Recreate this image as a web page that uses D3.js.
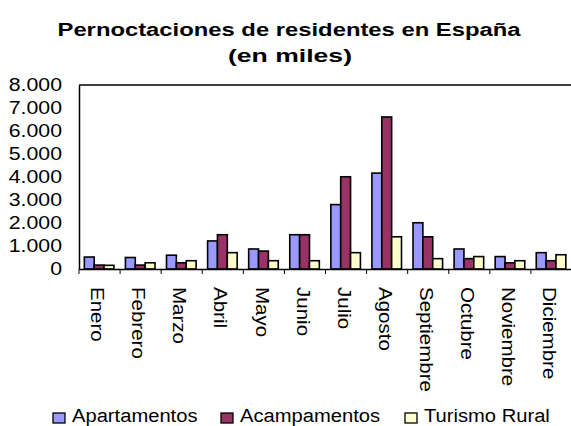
<!DOCTYPE html>
<html>
<head>
<meta charset="utf-8">
<script src="https://cdn.jsdelivr.net/npm/d3@7"></script>
<style>
  body { margin: 0; background: #fff; }
  svg { display: block; font-family: "Liberation Sans", Arial, sans-serif; }
</style>
</head>
<body>
<svg width="571" height="426"></svg>
<script>
const meses = ["Enero", "Febrero", "Marzo", "Abril", "Mayo", "Junio", "Julio",
    "Agosto", "Septiembre", "Octubre", "Noviembre", "Diciembre"];
const series = ["Apartamentos", "Acampamentos", "Turismo Rural"];
const apartamentos = [520, 500, 600, 1220, 870, 1490, 2800, 4170, 2010, 870, 540, 710];
const acampamentos = [170, 170, 270, 1490, 780, 1490, 4010, 6610, 1400, 450, 270, 360];
const turismoRural = [160, 270, 360, 710, 360, 360, 710, 1400, 450, 540, 360, 620];
const yTicks = [0, 1000, 2000, 3000, 4000, 5000, 6000, 7000, 8000];
const colores = ["#9999ff", "#993366", "#ffffcc"];

// el texto del original sale algo ensanchado
function estirar(sel, k) {
    sel.each(function () {
        const w = this.getComputedTextLength();
        d3.select(this).attr("textLength", w * k).attr("lengthAdjust", "spacingAndGlyphs");
    });
}

document.addEventListener('DOMContentLoaded', function () {
    const svg = d3.select("svg");
    const margin = { top: 85, right: -1, bottom: 157, left: 79 };
    const width = +svg.attr("width") - margin.left - margin.right;
    const height = +svg.attr("height") - margin.top - margin.bottom;
    const g = svg.append("g").attr("transform", `translate(${margin.left},${margin.top})`);

    const valores = [apartamentos, acampamentos, turismoRural];
    const data = meses.map((m, i) => ({ mes: m, vals: valores.map(v => v[i]) }));

    const x = d3.scaleBand().domain(meses).range([0, width]).padding(0);
    const x1 = d3.scaleBand().domain(series).range([0, x.bandwidth() * 0.72]);
    const y = d3.scaleLinear().domain([0, 8000]).range([height, 0]);

    // titulo
    svg.append("text").attr("x", 289).attr("y", 36).attr("text-anchor", "middle")
        .attr("font-size", 18).attr("font-weight", "bold")
        .attr("textLength", 463).attr("lengthAdjust", "spacingAndGlyphs")
        .text("Pernoctaciones de residentes en España");
    svg.append("text").attr("x", 290).attr("y", 62).attr("text-anchor", "middle")
        .attr("font-size", 18).attr("font-weight", "bold")
        .attr("textLength", 124).attr("lengthAdjust", "spacingAndGlyphs")
        .text("(en miles)");

    // borde superior del area
    g.append("line").attr("x1", 0).attr("x2", width).attr("y1", 0).attr("y2", 0)
        .attr("stroke", "#000").attr("stroke-width", 1.5);

    // barras
    const grupos = g.selectAll(".grupo").data(data).enter().append("g")
        .attr("class", "grupo")
        .attr("transform", d => `translate(${x(d.mes) + x.bandwidth() * 0.13},0)`);
    grupos.selectAll("rect").data(d => d.vals.map((v, i) => ({ s: series[i], v: v, i: i })))
        .enter().append("rect")
        .attr("x", d => x1(d.s))
        .attr("y", d => y(d.v))
        .attr("width", x1.bandwidth())
        .attr("height", d => height - y(d.v))
        .attr("fill", d => colores[d.i])
        .attr("stroke", "#000")
        .attr("stroke-width", 1.6);

    // eje y
    const yAxis = g.append("g")
        .call(d3.axisLeft(y).tickValues(yTicks).tickSize(0).tickPadding(17)
            .tickFormat(d => d3.format(",")(d).replace(/,/g, ".")));
    yAxis.select(".domain").attr("stroke", "#000").attr("stroke-width", 1.5);
    yAxis.selectAll("text").attr("font-size", 18.5).attr("fill", "#000")
        .attr("font-family", "Liberation Sans, Arial, sans-serif");
    estirar(yAxis.selectAll("text"), 1.15);

    // eje x
    const xAxis = g.append("g").attr("transform", `translate(0,${height})`)
        .call(d3.axisBottom(x).tickSize(0).tickFormat(""));
    xAxis.select(".domain").attr("stroke", "#000").attr("stroke-width", 1.5);
    xAxis.selectAll(".divisor").data(meses).enter().append("line")
        .attr("class", "divisor")
        .attr("x1", d => x(d)).attr("x2", d => x(d))
        .attr("y1", 0).attr("y2", 5)
        .attr("stroke", "#000").attr("stroke-width", 1);
    const etiquetas = xAxis.selectAll(".etiqueta").data(meses).enter().append("text")
        .attr("class", "etiqueta")
        .attr("transform", d => `translate(${x(d) + x.bandwidth() / 2 - 2},18) rotate(90)`)
        .attr("dy", "0.35em")
        .attr("font-size", 18)
        .attr("fill", "#000")
        .attr("text-anchor", "start")
        .text(d => d);
    estirar(etiquetas, 1.14);

    // leyenda
    const leyendaX = [53, 221, 405];
    const leyenda = svg.selectAll(".leyenda").data(series).enter().append("g")
        .attr("class", "leyenda")
        .attr("transform", (d, i) => `translate(${leyendaX[i]},413)`);
    leyenda.append("rect").attr("width", 12).attr("height", 10)
        .attr("fill", (d, i) => colores[i]).attr("stroke", "#000").attr("stroke-width", 1.3);
    const textos = leyenda.append("text").attr("x", 19).attr("y", 9).attr("font-size", 18)
        .text(d => d);
    estirar(textos, 1.12);
});
</script>
</body>
</html>
